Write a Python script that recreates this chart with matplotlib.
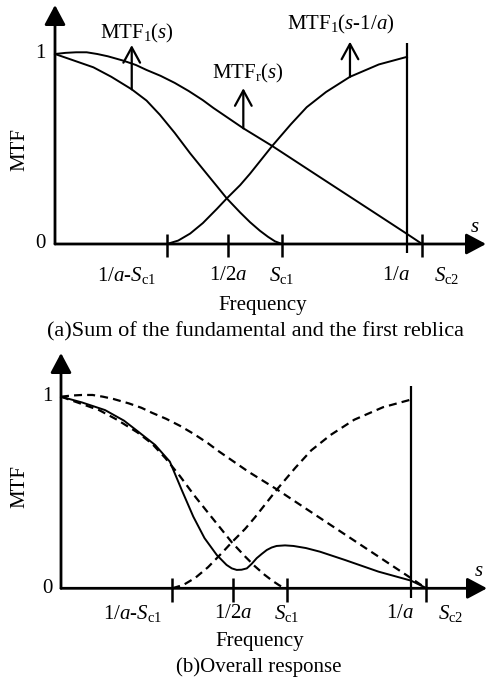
import matplotlib
matplotlib.use("Agg")
import matplotlib.pyplot as plt

plt.rcParams['font.family'] = ['Liberation Serif', 'DejaVu Serif']
plt.rcParams['mathtext.fontset'] = 'custom'
plt.rcParams['mathtext.rm'] = 'Liberation Serif'
plt.rcParams['mathtext.it'] = 'Liberation Serif:italic'

# ---------------- data (frequency in units of 1/a) ----------------
tick_pos = [0.318, 0.491, 0.645, 1.0, 1.043]
tick_labels = [r'1/$a$-$S_{\rm c1}$', r'1/2$a$', r'$S_{\rm c1}$', r'1/$a$', r'$S_{\rm c2}$']
ytick_pos = [0, 1]
ytick_labels = ['0', '1']

# fundamental MTF_1(s)
mtf1_x = [0, 0.05, 0.109, 0.16, 0.218, 0.26, 0.298, 0.34, 0.384, 0.43, 0.46,
          0.488, 0.526, 0.554, 0.582, 0.605, 0.625, 0.645]
mtf1_y = [1.0, 0.968, 0.93, 0.88, 0.814, 0.755, 0.68, 0.585, 0.477, 0.372, 0.304,
          0.24, 0.166, 0.115, 0.07, 0.038, 0.014, 0.0]

# MTF_r(s)
mtfr_x = [0, 0.03, 0.06, 0.09, 0.12, 0.15, 0.194, 0.23, 0.26, 0.3, 0.34, 0.38,
          0.42, 0.45, 0.535, 0.617, 0.75, 0.9, 1.0, 1.043]
mtfr_y = [1.0, 1.006, 1.009, 1.009, 1.0, 0.988, 0.965, 0.942, 0.916, 0.885,
          0.848, 0.805, 0.757, 0.716, 0.609, 0.516, 0.355, 0.174, 0.053, 0.0]

# first replica MTF_1(s-1/a)
rep_x = [0.318, 0.35, 0.384, 0.42, 0.46, 0.488, 0.526, 0.554, 0.617, 0.67,
         0.715, 0.77, 0.838, 0.92, 1.0]
rep_y = [0.0, 0.018, 0.055, 0.11, 0.185, 0.24, 0.31, 0.37, 0.516, 0.63,
         0.72, 0.80, 0.88, 0.945, 0.985]

# overall response
overall_x = [0, 0.06, 0.126, 0.18, 0.221, 0.269, 0.311, 0.345, 0.378, 0.41,
             0.445, 0.473, 0.488, 0.502, 0.516, 0.531, 0.545, 0.559, 0.574,
             0.588, 0.602, 0.616, 0.64, 0.664, 0.7, 0.74, 0.811, 0.907, 1.0, 1.045]
overall_y = [1.0, 0.97, 0.93, 0.875, 0.817, 0.748, 0.661, 0.513, 0.374, 0.262,
             0.174, 0.122, 0.104, 0.096, 0.097, 0.104, 0.128, 0.157, 0.18,
             0.2, 0.213, 0.221, 0.224, 0.221, 0.21, 0.191, 0.148, 0.087, 0.04, 0.0]

# annotation arrows (top panel)
arrow_x = [0.218, 0.535, 0.838]
arrow_base = [0.814, 0.609, 0.88]
arrow_top = [1.047, 0.82, 1.065]
arrow_labels = [r'MTF$_1$($s$)', r'MTF$_{\rm r}$($s$)', r'MTF$_1$($s$-1/$a$)']
label_x = [0.234, 0.547, 0.812]
label_y = [1.11, 0.898, 1.153]

line_top = 1.058
caption_a = '(a)Sum of the fundamental and the first reblica'
caption_b = '(b)Overall response'

W, H = 486, 680
FS = 15
fig = plt.figure(figsize=(W / 100, H / 100), dpi=100)


def make_panel(x0, y0, xs, ys, x_tip, y_tip):
    ax = fig.add_axes([x0 / W, (H - y0) / H, (W - x0) / W, y0 / H])
    ax.set_xlim(0, (W - x0) / xs)
    ax.set_ylim(0, y0 / ys)
    ax.axis('off')
    ahead = dict(arrowstyle='-|>,head_length=0.6,head_width=0.32', lw=2.0,
                 color='k', mutation_scale=20, shrinkA=0, shrinkB=0)
    ax.annotate('', xy=((x_tip - x0) / xs, 0), xytext=(0, 0), arrowprops=ahead,
                annotation_clip=False)
    ax.annotate('', xy=(0, (y0 - y_tip) / ys), xytext=(0, 0), arrowprops=ahead,
                annotation_clip=False)
    return ax


def decorate(ax, lab_dy, freq_xy, cap_xy, caption, cap_fs, mtf_y, mtf_dx, y_dx):
    # tick marks (except 1/a which is the full vertical line)
    tx = [p for p, l in zip(tick_pos, tick_labels) if l != r'1/$a$']
    ax.vlines(tx, -0.07, 0.055, color='k', lw=1.8, clip_on=False)
    ax.vlines(tick_pos[3], -0.05, line_top, color='k', lw=1.6, clip_on=False)
    has = ['right', 'center', 'center', 'right', 'left']
    dxs = [-7.5, 0, 0, 2, 8.5]
    for p, l, ha, dx in zip(tick_pos, tick_labels, has, dxs):
        ax.annotate(l, xy=(p, 0), xytext=(dx, lab_dy), textcoords='offset points',
                    ha=ha, va='center', fontsize=FS, annotation_clip=False)
    for p, l in zip(ytick_pos, ytick_labels):
        ax.annotate(l, xy=(0, p), xytext=(y_dx, 0), textcoords='offset points',
                    ha='right', va='center', fontsize=FS, annotation_clip=False)
    ax.annotate('MTF', xy=(0, mtf_y), xytext=(mtf_dx, 0), textcoords='offset points',
                ha='center', va='center', rotation=90, fontsize=FS,
                annotation_clip=False)
    ax.annotate(r'$s$', xy=(1.193, 0), xytext=(0, 12), textcoords='offset points',
                ha='center', va='center', fontsize=FS, annotation_clip=False)
    ax.annotate('Frequency', xy=(freq_xy[0], 0), xytext=(0, freq_xy[1]),
                textcoords='offset points', ha='center', va='center', fontsize=FS,
                annotation_clip=False)
    ax.annotate(caption, xy=(cap_xy[0], 0), xytext=(0, cap_xy[1]),
                textcoords='offset points', ha='center', va='center', fontsize=cap_fs,
                annotation_clip=False)


# ---------------- panel (a) ----------------
axa = make_panel(55, 244, 352, 190, 486, 5)
axa.plot(mtf1_x, mtf1_y, color='k', lw=1.4, clip_on=False)
axa.plot(mtfr_x, mtfr_y, color='k', lw=1.4, clip_on=False)
axa.plot(rep_x, rep_y, color='k', lw=1.4, clip_on=False)
for x, b, t in zip(arrow_x, arrow_base, arrow_top):
    axa.annotate('', xy=(x, t), xytext=(x, b),
                 arrowprops=dict(arrowstyle='->,head_length=1.1,head_width=0.6',
                                 lw=1.6, color='k', mutation_scale=10,
                                 shrinkA=0, shrinkB=0),
                 annotation_clip=False)
for l, x, y in zip(arrow_labels, label_x, label_y):
    axa.text(x, y, l, ha='center', va='center', fontsize=FS, clip_on=False)
decorate(axa, -22.5, (0.591, -44.5), (0.571, -63), caption_a, 16, 0.495, -25, -7)

# ---------------- panel (b) ----------------
axb = make_panel(61, 588.3, 350, 191.6, 487, 353)
dash = dict(color='k', lw=1.6, dashes=(3.6, 2.3), clip_on=False)
axb.plot(mtf1_x, mtf1_y, **dash)
axb.plot(mtfr_x, mtfr_y, **dash)
axb.plot(rep_x, rep_y, **dash)
axb.plot(overall_x, overall_y, color='k', lw=1.4, clip_on=False)
decorate(axb, -18, (0.569, -38.5), (0.566, -56.5), caption_b, 15, 0.53, -29.5, -6)

fig.savefig('out.png', dpi=100, facecolor='white')
